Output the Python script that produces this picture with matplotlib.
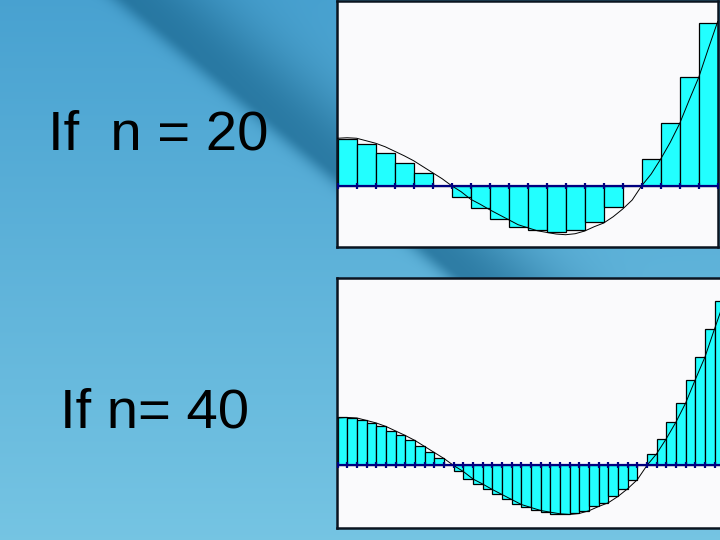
import numpy as np
import matplotlib.pyplot as plt

# curve f(t) read at t = 0, 0.5, ..., 20
curve_t = np.arange(0, 20.5, 0.5)
curve_f = [47.5, 48.0, 47.5, 45.0, 42.5, 39.0, 34.5, 30.0, 25.0, 19.0,
           13.0, 7.0, 0.0, -6.0, -13.5, -18.5, -24.0, -29.0, -34.0, -39.0,
           -42.0, -45.0, -46.7, -48.3, -49.0, -48.0, -45.3, -41.0, -37.3, -31.0,
           -23.3, -14.3, 0.0, 11.7, 26.7, 43.3, 62.3, 85.7, 108.3, 136.7, 164.3]

# right-endpoint rectangle heights
n20_heights = [46.5, 41.5, 33.2, 23.2, 12.3, 0.0, -11.7, -22.7, -33.3, -41.0,
               -44.7, -46.7, -44.3, -36.7, -21.7, 0.0, 26.3, 62.3, 108.3, 162.3]
n40_heights = [48.0, 47.5, 45.0, 42.5, 39.0, 34.5, 30.0, 25.0, 19.0, 13.0,
               7.0, 0.0, -6.0, -13.5, -18.5, -24.0, -29.0, -34.0, -39.0, -42.0,
               -45.0, -46.7, -48.3, -49.0, -48.0, -45.3, -41.0, -37.3, -31.0, -23.3,
               -14.3, 0.0, 11.7, 26.7, 43.3, 62.3, 85.7, 108.3, 136.7, 164.3]

labels = ["If  n = 20", "If n= 40"]

fig = plt.figure(figsize=(7.2, 5.4), dpi=100)

# slide background (blue with a dark diagonal streak)
H, W = 540, 720
Y, X = np.mgrid[0:H, 0:W].astype(float)
c_dark = np.array([0.24, 0.60, 0.80])
c_light = np.array([0.46, 0.77, 0.89])
t = np.clip(0.2 + 0.8 * Y / H, 0, 1)[..., None]
bg = c_dark * (1 - t) + c_light * t
d = ((X - 130) * 170 - Y * 205) / 266.3
sig = np.where(d < 0, 12.0, 60.0)
w = (np.exp(-(d / sig) ** 2) * 0.7)[..., None]
band = np.array([0.10, 0.40, 0.56])
bg = bg * (1 - w) + band * w
ax_bg = fig.add_axes([0, 0, 1, 1])
ax_bg.imshow(bg, aspect='auto', extent=[0, 1, 0, 1])
ax_bg.axis('off')


def draw_panel(ax, heights, width, xlim, ylim):
    lefts = np.arange(len(heights)) * width
    ax.bar(lefts, heights, width=width, align='edge', color='#22FFFF',
           edgecolor='black', linewidth=0.9, zorder=2)
    ax.plot(curve_t, curve_f, color='black', lw=0.7, zorder=3)
    ax.axhline(0, color='#000080', lw=1.6, zorder=4)
    edges = np.arange(len(heights) + 1) * width
    ax.plot(edges, np.zeros_like(edges), ls='none', marker='|', ms=4.5,
            mew=1.6, color='#000080', zorder=5)
    ax.set_xlim(xlim)
    ax.set_ylim(ylim)
    ax.set_xticks([])
    ax.set_yticks([])
    ax.set_facecolor('#FAFAFC')
    for s in ax.spines.values():
        s.set_color('#0A1420')
        s.set_linewidth(1.8)


ax1 = fig.add_axes([0.4676, 0.542, 0.53, 0.456])
draw_panel(ax1, n20_heights, 1.0, (-0.05, 20.03), (-61.6, 184.7))

ax2 = fig.add_axes([0.4676, 0.0217, 0.5407, 0.463])
draw_panel(ax2, n40_heights, 0.5, (-0.05, 20.09), (-62.8, 187.2))

fig.text(47.5 / 720, 1 - 149.3 / 540, labels[0], fontsize=40.5,
         family='Liberation Sans', color='black', va='baseline')
fig.text(60.0 / 720, 1 - 427.7 / 540, labels[1], fontsize=40.5,
         family='Liberation Sans', color='black', va='baseline')

fig.savefig("out.png", dpi=100)
